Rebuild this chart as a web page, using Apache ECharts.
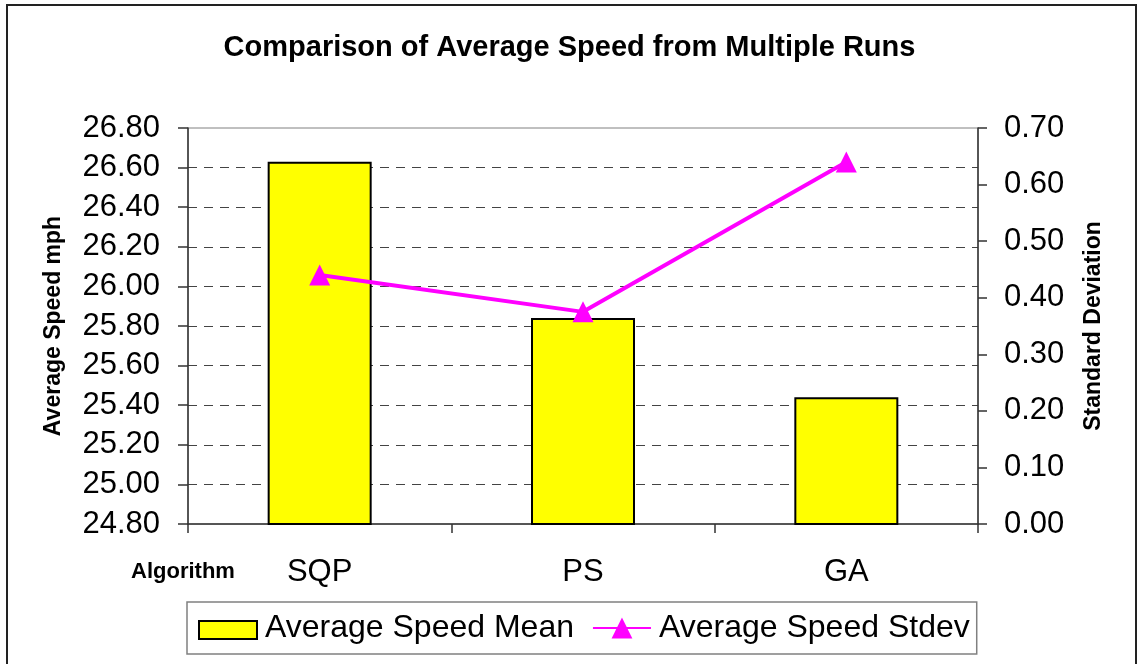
<!DOCTYPE html>
<html>
<head>
<meta charset="utf-8">
<title>Comparison of Average Speed from Multiple Runs</title>
<script src="https://cdn.jsdelivr.net/npm/echarts@6/dist/echarts.min.js"></script>
<style>
  html, body { margin: 0; padding: 0; background: #ffffff; }
  #chart { width: 1139px; height: 664px; }
</style>
</head>
<body>
<div id="chart"></div>
<script>
// Algorithms compared
const algorithms = ['SQP', 'PS', 'GA'];
// Mean of the average speed over the runs (mph)
const speedMean = [26.63, 25.84, 25.44];
// Standard deviation of the average speed over the runs
const speedStdev = [0.44, 0.375, 0.64];

const FONT = "'Liberation Sans', Arial, Helvetica, sans-serif";

const chart = echarts.init(document.getElementById('chart'), null, { renderer: 'canvas' });

chart.setOption({
  backgroundColor: '#ffffff',
  animation: false,
  title: {
    text: 'Comparison of Average Speed from Multiple Runs',
    left: 'center',
    top: 28,
    textStyle: { fontFamily: FONT, fontSize: 29, fontWeight: 'bold', color: '#000000' }
  },
  graphic: [
    {
      type: 'rect',
      shape: { x: 7, y: 5, width: 1129, height: 700 },
      style: { fill: 'none', stroke: '#222222', lineWidth: 2 },
      silent: true, z: -10
    },
    {
      type: 'text',
      left: 131,
      top: 561,
      style: { text: 'Algorithm', font: "bold 22px " + FONT, fill: '#000000' }
    }
  ],
  legend: {
    left: 187,
    top: 602,
    padding: [10, 7, 10, 11],
    borderColor: '#808080',
    borderWidth: 1.5,
    itemWidth: 58,
    itemHeight: 26,
    itemGap: 18,
    textStyle: { fontFamily: FONT, fontSize: 32, color: '#000000', padding: [0, 0, 0, 3] },
    data: [
      {
        name: 'Average Speed Mean',
        // plain rectangle, 18px tall inside the 26px legend cell
        icon: 'path://M0,0L0,0M0,4L58,4L58,22L0,22Z'
      },
      { name: 'Average Speed Stdev' }
    ]
  },
  grid: {
    left: 188,
    right: 161,
    top: 128,
    bottom: 140,
    show: true,
    borderColor: '#808080',
    borderWidth: 1,
    backgroundColor: 'transparent'
  },
  xAxis: {
    type: 'category',
    data: algorithms,
    boundaryGap: true,
    axisLine: { lineStyle: { color: '#333333', width: 1.5 } },
    axisTick: { show: true, inside: false, length: 9, lineStyle: { color: '#333333', width: 1.5 } },
    axisLabel: { margin: 33, fontFamily: FONT, fontSize: 31, color: '#000000' }
  },
  yAxis: [
    {
      type: 'value',
      min: 24.8,
      max: 26.8,
      interval: 0.2,
      name: 'Average Speed mph',
      nameLocation: 'middle',
      nameGap: 123,
      nameRotate: 90,
      nameTextStyle: { fontFamily: FONT, fontSize: 23, fontWeight: 'bold', color: '#000000' },
      axisLine: { show: true, lineStyle: { color: '#333333', width: 1.5 } },
      axisTick: { show: true, inside: false, length: 10, lineStyle: { color: '#333333', width: 1.5 } },
      axisLabel: {
        margin: 28,
        fontFamily: FONT,
        fontSize: 31,
        color: '#000000',
        formatter: v => v.toFixed(2)
      },
      splitLine: {
        show: true,
        showMinLine: false,
        showMaxLine: false,
        lineStyle: { color: '#444444', type: [9, 7], width: 1 }
      }
    },
    {
      type: 'value',
      min: 0,
      max: 0.7,
      interval: 0.1,
      position: 'right',
      name: 'Standard Deviation',
      nameLocation: 'middle',
      nameGap: 104,
      nameRotate: 90,
      nameTextStyle: { fontFamily: FONT, fontSize: 23, fontWeight: 'bold', color: '#000000' },
      axisLine: { show: true, lineStyle: { color: '#333333', width: 1.5 } },
      axisTick: { show: true, inside: false, length: 9, lineStyle: { color: '#333333', width: 1.5 } },
      axisLabel: {
        margin: 26,
        fontFamily: FONT,
        fontSize: 31,
        color: '#000000',
        formatter: v => v.toFixed(2)
      },
      splitLine: { show: false }
    }
  ],
  series: [
    {
      name: 'Average Speed Mean',
      type: 'bar',
      yAxisIndex: 0,
      data: speedMean,
      barWidth: 104,
      itemStyle: { color: '#ffff00', borderColor: '#000000', borderWidth: 2 },
      z: 2
    },
    {
      name: 'Average Speed Stdev',
      type: 'line',
      yAxisIndex: 1,
      data: speedStdev,
      symbol: 'triangle',
      symbolSize: [21, 21],
      showAllSymbol: true,
      lineStyle: { color: '#ff00ff', width: 4 },
      itemStyle: { color: '#ff00ff', borderWidth: 0 },
      z: 3
    }
  ]
});
</script>
</body>
</html>
